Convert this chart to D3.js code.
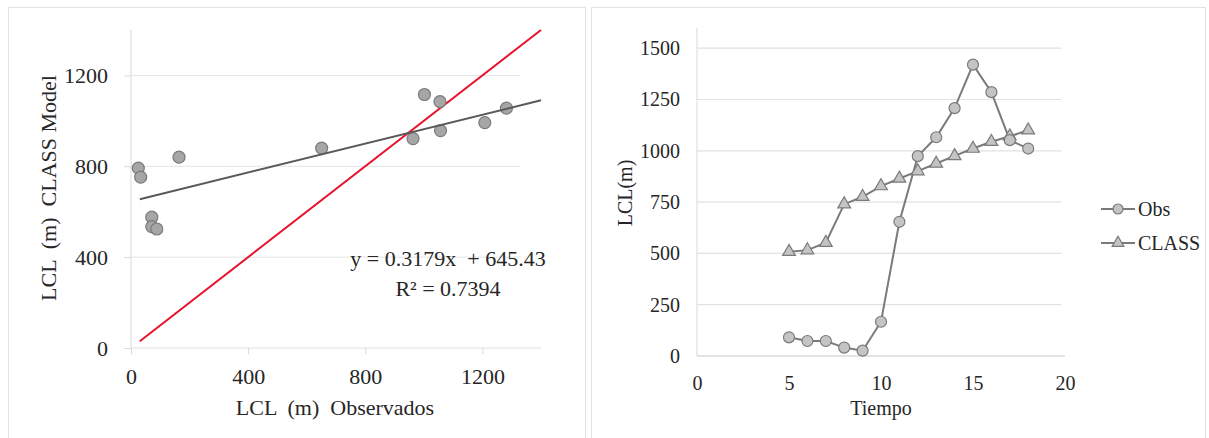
<!DOCTYPE html>
<html><head><meta charset="utf-8">
<script src="https://cdn.jsdelivr.net/npm/d3@7"></script>
<style>
html,body{margin:0;padding:0;background:#fff;}
svg{display:block;}
svg text{font-family:"Liberation Serif","Times New Roman",serif !important;}
</style></head>
<body><svg id="c" width="1209" height="438"></svg>
<script>
// ---- Left chart data (scatter) ----
const obsX = [25, 33, 71, 71, 88, 164, 651, 963, 1002, 1055, 1057, 1208, 1282];
const classY = [792, 752, 576, 534, 524, 840, 880, 922, 1116, 1085, 957, 992, 1056];
const trendSlope = 0.3179, trendIntercept = 645.43;
const trendRange = [30, 1400];
const identityRange = [30, 1400];
const leftXTicks = [0, 400, 800, 1200];
const leftYTicks = [0, 400, 800, 1200];
const eqLines = ["y = 0.3179x  + 645.43", "R² = 0.7394"];

// ---- Right chart data (time series) ----
const tiempo = [5, 6, 7, 8, 9, 10, 11, 12, 13, 14, 15, 16, 17, 18];
const obs = [91, 73, 73, 41, 26, 167, 654, 974, 1066, 1208, 1420, 1286, 1052, 1011];
const classM = [508, 516, 552, 740, 776, 828, 865, 901, 938, 975, 1011, 1044, 1071, 1100];
const rightXTicks = [0, 5, 10, 15, 20];
const rightYTicks = [0, 250, 500, 750, 1000, 1250, 1500];
const seriesNames = ["Obs", "CLASS"];

const svg = d3.select("#c");
const textCol = "#262626";
const serif = "'Liberation Serif', 'Times New Roman', serif";
const fmt = d3.format("d");

// panel borders
svg.append("rect").attr("x", 8.5).attr("y", 7.5).attr("width", 577).attr("height", 440)
  .attr("fill", "none").attr("stroke", "#e3e3e3");
svg.append("rect").attr("x", 591.5).attr("y", 7.5).attr("width", 614).attr("height", 440)
  .attr("fill", "none").attr("stroke", "#e3e3e3");

// ================= LEFT =================
const lx = d3.scaleLinear().domain([0, 1400]).range([131, 541]);
const ly = d3.scaleLinear().domain([0, 1400]).range([348, 30]);
const L = svg.append("g");

L.append("g").selectAll("line").data(leftYTicks.filter(d => d > 0)).join("line")
  .attr("x1", lx(0)).attr("x2", lx(1330)).attr("y1", d => ly(d)).attr("y2", d => ly(d))
  .attr("stroke", "#e4e4e4").attr("stroke-width", 1);
L.append("line").attr("x1", lx(0)).attr("x2", lx(1400)).attr("y1", ly(0)).attr("y2", ly(0))
  .attr("stroke", "#e0e0e0");
L.append("line").attr("x1", lx(0)).attr("x2", lx(0)).attr("y1", ly(1400)).attr("y2", ly(0))
  .attr("stroke", "#d9d9d9");

const lxAxis = d3.axisBottom(lx).tickValues(leftXTicks).tickFormat(fmt).tickSize(6).tickPadding(14);
const gx = L.append("g").attr("transform", `translate(0,${ly(0)})`).call(lxAxis)
  .attr("font-family", serif).attr("font-size", 22);
gx.select(".domain").remove();
gx.selectAll(".tick line").attr("stroke", "#d9d9d9");
gx.selectAll("text").attr("fill", textCol);

const lyAxis = d3.axisLeft(ly).tickValues(leftYTicks).tickFormat(fmt).tickSize(7).tickPadding(16);
const gy = L.append("g").attr("transform", `translate(${lx(0)},0)`).call(lyAxis)
  .attr("font-family", serif).attr("font-size", 22);
gy.select(".domain").remove();
gy.selectAll(".tick line").attr("stroke", "#d9d9d9");
gy.selectAll("text").attr("fill", textCol);

// identity (red) line
L.append("line").attr("x1", lx(identityRange[0])).attr("y1", ly(identityRange[0]))
  .attr("x2", lx(identityRange[1])).attr("y2", ly(identityRange[1]))
  .attr("stroke", "#e8122d").attr("stroke-width", 2);

// points
const pts = obsX.map((x, i) => ({x, y: classY[i]}));
L.append("g").selectAll("circle").data(pts).join("circle")
  .attr("cx", d => lx(d.x)).attr("cy", d => ly(d.y)).attr("r", 6)
  .attr("fill", "#a6a6a6").attr("stroke", "#7a7a7a").attr("stroke-width", 1.2);

// trend line
L.append("line").attr("x1", lx(trendRange[0])).attr("y1", ly(trendSlope * trendRange[0] + trendIntercept))
  .attr("x2", lx(trendRange[1])).attr("y2", ly(trendSlope * trendRange[1] + trendIntercept))
  .attr("stroke", "#595959").attr("stroke-width", 2);

// equation
L.append("g").attr("font-family", serif).selectAll("text").data(eqLines).join("text")
  .attr("x", 448).attr("y", (d, i) => 266 + i * 30).attr("text-anchor", "middle")
  .style("white-space", "pre").attr("xml:space", "preserve")
  .attr("fill", textCol).attr("font-size", 22).text(d => d);

// axis titles
L.append("text").attr("x", 335).attr("y", 415).attr("text-anchor", "middle")
  .attr("xml:space", "preserve").style("white-space", "pre").attr("font-family", serif)
  .attr("fill", textCol).attr("font-size", 22).text("LCL  (m)  Observados");
L.append("text").attr("transform", "translate(56,188) rotate(-90)").attr("text-anchor", "middle")
  .attr("xml:space", "preserve").style("white-space", "pre").attr("font-family", serif)
  .attr("fill", textCol).attr("font-size", 22).text("LCL  (m)  CLASS Model");

// ================= RIGHT =================
const rx = d3.scaleLinear().domain([0, 20]).range([697, 1065]);
const ry = d3.scaleLinear().domain([0, 1600]).range([356, 27.7]);
const R = svg.append("g");

R.append("g").selectAll("line").data(rightYTicks.filter(d => d > 0)).join("line")
  .attr("x1", rx(0)).attr("x2", rx(19.8)).attr("y1", d => ry(d)).attr("y2", d => ry(d))
  .attr("stroke", "#e2e2e2").attr("stroke-width", 1.2);
R.append("line").attr("x1", rx(0)).attr("x2", rx(0)).attr("y1", ry(1600)).attr("y2", ry(0))
  .attr("stroke", "#d9d9d9");
R.append("line").attr("x1", rx(0)).attr("x2", rx(20)).attr("y1", ry(0)).attr("y2", ry(0))
  .attr("stroke", "#c8c8c8").attr("stroke-width", 1.2);

const rxAxis = d3.axisBottom(rx).tickValues(rightXTicks).tickFormat(fmt).tickSize(0).tickPadding(20);
const rgx = R.append("g").attr("transform", `translate(0,${ry(0)})`).call(rxAxis)
  .attr("font-family", serif).attr("font-size", 20);
rgx.select(".domain").remove();
rgx.selectAll("text").attr("fill", textCol);

const ryAxis = d3.axisLeft(ry).tickValues(rightYTicks).tickFormat(fmt).tickSize(0).tickPadding(17);
const rgy = R.append("g").attr("transform", `translate(${rx(0)},0)`).call(ryAxis)
  .attr("font-family", serif).attr("font-size", 20);
rgy.select(".domain").remove();
rgy.selectAll("text").attr("fill", textCol);

const lineGen = d3.line().x(d => rx(d.t)).y(d => ry(d.v));
const obsData = tiempo.map((t, i) => ({t, v: obs[i]}));
const classData = tiempo.map((t, i) => ({t, v: classM[i]}));
const lineCol = "#7a7a7a", mFill = "#c4c4c4", mStroke = "#7a7a7a";

R.append("path").datum(obsData).attr("d", lineGen).attr("fill", "none")
  .attr("stroke", lineCol).attr("stroke-width", 2);
R.append("path").datum(classData).attr("d", lineGen).attr("fill", "none")
  .attr("stroke", lineCol).attr("stroke-width", 2);

const tri = d3.symbol().type(d3.symbolTriangle).size(70);
R.append("g").selectAll("path").data(classData).join("path")
  .attr("d", tri).attr("transform", d => `translate(${rx(d.t)},${ry(d.v)})`)
  .attr("fill", mFill).attr("stroke", mStroke).attr("stroke-width", 1.2);
R.append("g").selectAll("circle").data(obsData).join("circle")
  .attr("cx", d => rx(d.t)).attr("cy", d => ry(d.v)).attr("r", 5.5)
  .attr("fill", mFill).attr("stroke", mStroke).attr("stroke-width", 1.2);

// axis titles
R.append("text").attr("x", 881).attr("y", 415).attr("text-anchor", "middle").attr("font-family", serif)
  .attr("fill", textCol).attr("font-size", 20).text("Tiempo");
R.append("text").attr("transform", "translate(632,193) rotate(-90)").attr("text-anchor", "middle")
  .attr("font-family", serif).attr("fill", textCol).attr("font-size", 20).text("LCL(m)");

// legend
const leg = R.append("g").attr("font-family", serif);
seriesNames.forEach((name, i) => {
  const y = 209 + i * 34;
  leg.append("line").attr("x1", 1101).attr("x2", 1135).attr("y1", y).attr("y2", y)
    .attr("stroke", lineCol).attr("stroke-width", 2);
  if (i === 0) {
    leg.append("circle").attr("cx", 1118).attr("cy", y).attr("r", 5)
      .attr("fill", mFill).attr("stroke", mStroke).attr("stroke-width", 1.2);
  } else {
    leg.append("path").attr("d", d3.symbol().type(d3.symbolTriangle).size(60))
      .attr("transform", `translate(1118,${y})`)
      .attr("fill", mFill).attr("stroke", mStroke).attr("stroke-width", 1.2);
  }
  leg.append("text").attr("x", 1138).attr("y", y).attr("dy", "0.35em")
    .attr("fill", textCol).attr("font-size", 20).text(name);
});
</script>
</body></html>
